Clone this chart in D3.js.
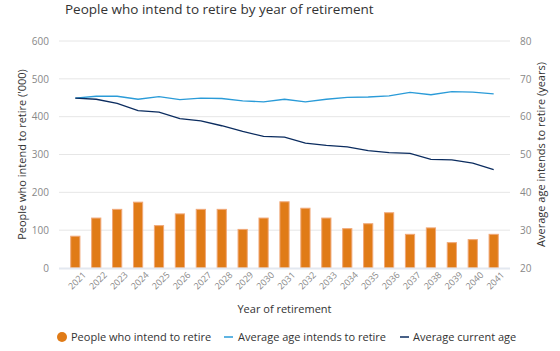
<!DOCTYPE html>
<html>
<head>
<meta charset="utf-8">
<script src="https://cdn.jsdelivr.net/npm/d3@7"></script>
<style>
  body { margin: 0; background: #fff; font-family: "Open Sans", sans-serif; }
</style>
</head>
<body>
<svg width="560" height="351"></svg>
<script>
const years = ["2021","2022","2023","2024","2025","2026","2027","2028","2029","2030","2031",
  "2032","2033","2034","2035","2036","2037","2038","2039","2040","2041"];
const peopleRetiring = [84, 132, 155, 174, 112, 143, 155, 155, 102, 132, 175,
  158, 132, 104, 117, 146, 89, 106, 67, 75, 89];
const ageIntendRetire = [64.9, 65.4, 65.4, 64.6, 65.3, 64.5, 64.9, 64.8, 64.2, 63.9, 64.6,
  63.9, 64.6, 65.1, 65.2, 65.5, 66.4, 65.8, 66.6, 66.5, 66.0];
const ageCurrent = [64.9, 64.6, 63.5, 61.6, 61.2, 59.5, 58.9, 57.6, 56.1, 54.8, 54.6,
  53.0, 52.4, 52.0, 51.0, 50.5, 50.3, 48.7, 48.6, 47.7, 46.0];
const leftTicks = [0, 100, 200, 300, 400, 500, 600];
const rightTicks = [20, 30, 40, 50, 60, 70, 80];

const orange = "#e07b17";
const lightBlue = "#2a9bd8";
const navy = "#0b2c5f";

const plotL = 59, plotR = 510, plotT = 41, plotB = 268;

const svg = d3.select("svg");

svg.append("text")
  .attr("x", 65).attr("y", 14)
  .attr("font-size", 13.5).attr("fill", "#333")
  .text("People who intend to retire by year of retirement");

const x = d3.scaleBand().domain(years).range([plotL, plotR]).padding(0.56);
const y = d3.scaleLinear().domain([0, 600]).range([plotB, plotT]);
const y2 = d3.scaleLinear().domain([20, 80]).range([plotB, plotT]);

// gridlines
svg.append("g")
  .selectAll("line")
  .data(leftTicks.slice(1))
  .enter().append("line")
  .attr("x1", plotL).attr("x2", plotR)
  .attr("y1", d => y(d)).attr("y2", d => y(d))
  .attr("stroke", "#e6e6e6").attr("stroke-width", 1);

// left axis
const yAxis = svg.append("g")
  .attr("transform", `translate(${plotL},0)`)
  .call(d3.axisLeft(y).tickValues(leftTicks).tickSize(0).tickPadding(10));
yAxis.select(".domain").remove();
yAxis.selectAll("text").attr("fill", "#888").attr("font-size", 10).attr("font-family", "Open Sans");

// right axis
const y2Axis = svg.append("g")
  .attr("transform", `translate(${plotR},0)`)
  .call(d3.axisRight(y2).tickValues(rightTicks).tickSize(0).tickPadding(10));
y2Axis.select(".domain").remove();
y2Axis.selectAll("text").attr("fill", "#888").attr("font-size", 10).attr("font-family", "Open Sans");

// bars
svg.append("g")
  .selectAll("rect")
  .data(peopleRetiring)
  .enter().append("rect")
  .attr("x", (d, i) => x(years[i]))
  .attr("y", d => y(d))
  .attr("width", x.bandwidth())
  .attr("height", d => plotB - y(d))
  .attr("fill", orange)
  .attr("stroke", "#f0a878")
  .attr("stroke-width", 1);

// x axis baseline
svg.append("line")
  .attr("x1", plotL).attr("x2", plotR)
  .attr("y1", plotB + 0.5).attr("y2", plotB + 0.5)
  .attr("stroke", "#e3e8f0").attr("stroke-width", 2);

const xAxis = svg.append("g")
  .attr("transform", `translate(0,${plotB})`)
  .call(d3.axisBottom(x).tickSize(0).tickPadding(7));
xAxis.select(".domain").remove();
xAxis.selectAll("text")
  .attr("fill", "#888").attr("font-size", 9).attr("font-family", "Open Sans")
  .attr("text-anchor", "end")
  .attr("dx", "0.3em").attr("dy", "0.7em")
  .attr("transform", "rotate(-45)");

// lines
const line = (arr) => d3.line()
  .x((d, i) => x(years[i]) + x.bandwidth() / 2)
  .y(d => y2(d))(arr);

svg.append("path")
  .attr("d", line(ageIntendRetire))
  .attr("fill", "none").attr("stroke", lightBlue).attr("stroke-width", 1.3);
svg.append("path")
  .attr("d", line(ageCurrent))
  .attr("fill", "none").attr("stroke", navy).attr("stroke-width", 1.3);

// axis titles
svg.append("text")
  .attr("transform", `translate(26,${(plotT + plotB) / 2}) rotate(-90)`)
  .attr("text-anchor", "middle").attr("font-size", 11).attr("fill", "#333")
  .text("People who intend to retire ('000)");
svg.append("text")
  .attr("transform", `translate(545,${(plotT + plotB) / 2}) rotate(-90)`)
  .attr("text-anchor", "middle").attr("font-size", 11).attr("fill", "#333")
  .text("Average age intends to retire (years)");
svg.append("text")
  .attr("x", (plotL + plotR) / 2).attr("y", 313)
  .attr("text-anchor", "middle").attr("font-size", 11).attr("fill", "#333")
  .text("Year of retirement");

// legend
const lg = svg.append("g").attr("font-size", 11).attr("fill", "#333");
lg.append("circle").attr("cx", 62).attr("cy", 337).attr("r", 5).attr("fill", orange);
lg.append("text").attr("x", 71).attr("y", 341).text("People who intend to retire");
lg.append("line").attr("x1", 224).attr("x2", 233).attr("y1", 337).attr("y2", 337)
  .attr("stroke", lightBlue).attr("stroke-width", 1.5);
lg.append("text").attr("x", 238).attr("y", 341).text("Average age intends to retire");
lg.append("line").attr("x1", 400).attr("x2", 409).attr("y1", 337).attr("y2", 337)
  .attr("stroke", navy).attr("stroke-width", 1.5);
lg.append("text").attr("x", 413).attr("y", 341).text("Average current age");
</script>
</body>
</html>
